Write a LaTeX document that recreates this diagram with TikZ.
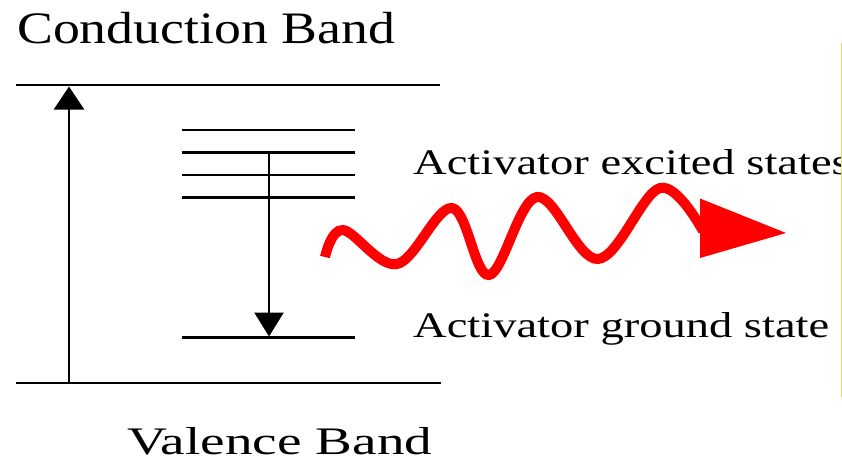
\documentclass[tikz,border=0pt]{standalone}
\usepackage{fontspec}
\setmainfont{Liberation Serif}
\usepackage{graphicx}
\usetikzlibrary{arrows.meta}
\definecolor{edgeyellow}{RGB}{228,222,90}
\begin{document}
\begin{tikzpicture}[x=1pt,y=-1pt,
  level/.style={line width=2.8pt},
  trans/.style={line width=2.6pt},
  lbl/.style={anchor=base west, inner sep=0pt, text=black},
  wave/.style={red, line width=10pt, line cap=butt}]
\useasboundingbox (0,0) rectangle (842,461);
\fill[white] (0,0) rectangle (842,461);

% band edges
\coordinate (cbL) at (16,85);   \coordinate (cbR) at (440,85);
\coordinate (vbL) at (16,383);  \coordinate (vbR) at (441,383);
\draw[level] (cbL) -- (cbR);
\draw[level] (vbL) -- (vbR);

% activator levels
\foreach \y [count=\i] in {130,152.5,175,197.5}{
  \coordinate (exL\i) at (182,\y); \coordinate (exR\i) at (355,\y);
  \draw[level] (exL\i) -- (exR\i);
}
\coordinate (gsL) at (182,337.5); \coordinate (gsR) at (355,337.5);
\draw[level] (gsL) -- (gsR);

% excitation arrow
\coordinate (upS) at (69,383); \coordinate (upE) at (69,86.5);
\draw[trans, -{Triangle[width=30pt,length=23pt]}] (upS) -- (upE);

% relaxation arrow
\coordinate (dnS) at (269,152.5); \coordinate (dnE) at (269,336.5);
\draw[trans, -{Triangle[width=29pt,length=24pt]}] (dnS) -- (dnE);

% emitted light
\draw[wave] plot[smooth, tension=0.6] coordinates
  {(325,257) (343,230) (397,264) (452,208) (489,275) (537,197) (598,259) (660,188) (703,231)};
\coordinate (hb1) at (700,198.5); \coordinate (htip) at (786,233); \coordinate (hb2) at (700,258);
\fill[red] (hb1) -- (htip) -- (hb2) -- cycle;

% labels
\node[lbl] (cb) at (17,43) {\resizebox{378pt}{\height}{\fontsize{45}{50}\selectfont Conduction Band}};
\node[lbl] (vb) at (127,454) {\resizebox{305pt}{\height}{\fontsize{39}{44}\selectfont Valence Band}};
\node[lbl] (gs) at (413,337) {\resizebox{416pt}{\height}{\fontsize{36}{40}\selectfont Activator ground state}};
\begin{scope}
\clip (0,0) rectangle (841,461);
\node[lbl] (es) at (413,174.5) {\scalebox{1.292}[1]{\fontsize{36}{40}\selectfont Activator excited states}};
\end{scope}

% right edge line
\coordinate (yT) at (841,43); \coordinate (yB) at (841,397);
\draw[edgeyellow, line width=1pt] (yT) -- (yB);
\end{tikzpicture}
\end{document}
